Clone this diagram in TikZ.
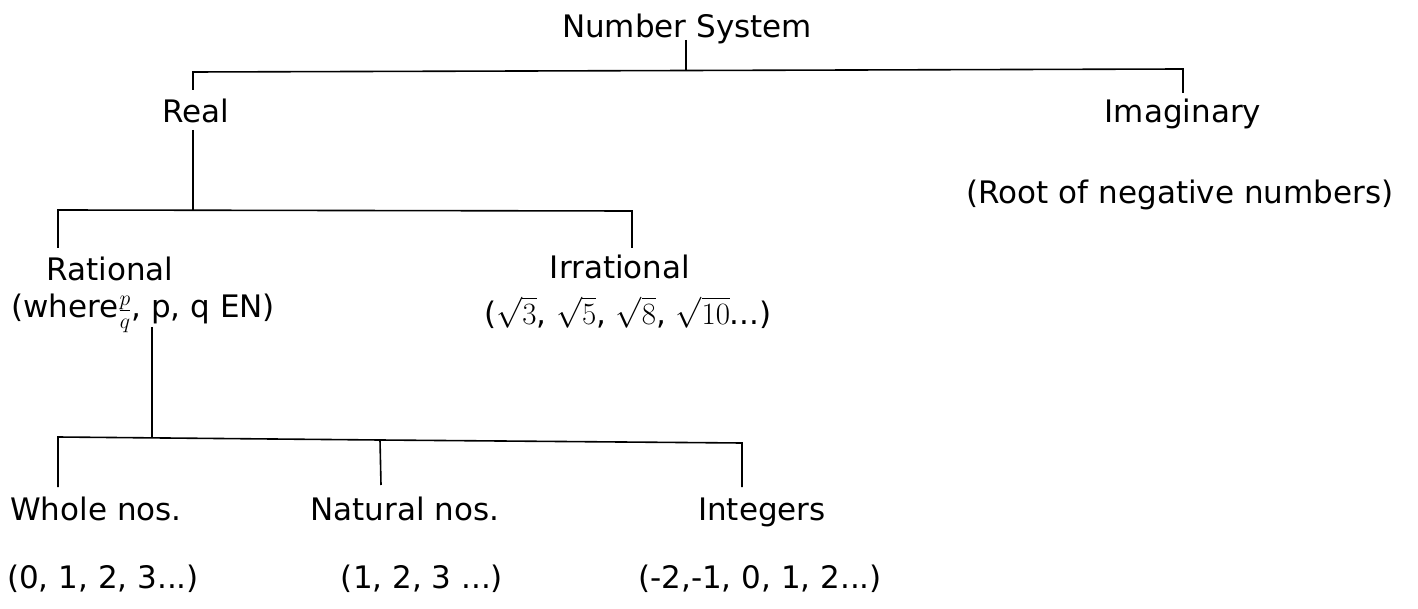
\documentclass[tikz,border=0pt]{standalone}
\usepackage{fix-cm}
\usepackage{fontspec}
\setmainfont{DejaVu Sans}
\begin{document}
\begin{tikzpicture}[x=1pt,y=-1pt,
  lbl/.style={inner sep=0pt,anchor=base,font=\fontsize{31}{36}\selectfont},
  ln/.style={line width=1.6pt}]
\useasboundingbox (0,0) rectangle (1418,609);
% nodes (placed at their baselines)
\node[lbl] (ns) at (687,38) {Number System};
\node[lbl] (real) at (196,123) {Real};
\node[lbl] (imag) at (1183,123) {Imaginary};
\node[lbl] (root) at (1180,204) {(Root of negative numbers)};
\node[lbl] (rat) at (110,281) {Rational};
\node[lbl] (irr) at (620,279) {Irrational};
\node[lbl] (where) at (143,318) {(where$\frac{p}{q}$, p, q EN)};
\node[lbl] (sqr) at (628,324) {($\sqrt{3}$, $\sqrt{5}$, $\sqrt{8}$, $\sqrt{10}$...)};
\node[lbl] (whole) at (96,520) {Whole nos.};
\node[lbl] (nat) at (405,520) {Natural nos.};
\node[lbl] (int) at (762,520) {Integers};
\node[lbl] (w0) at (103,588) {(0, 1, 2, 3...)};
\node[lbl] (n0) at (422,588) {(1, 2, 3 ...)};
\node[lbl] (i0) at (760,588) {(-2,-1, 0, 1, 2...)};
% junction coordinates
\coordinate (a0) at (686,40);
\coordinate (a1) at (686,71);
\coordinate (aL) at (193,72);
\coordinate (aR) at (1183,69);
\coordinate (aLd) at (193,90);
\coordinate (aRd) at (1183,93);
\coordinate (b0) at (193,130);
\coordinate (b1) at (193,210);
\coordinate (bL) at (58,210);
\coordinate (bR) at (632,211);
\coordinate (bLd) at (58,248);
\coordinate (bRd) at (632,248);
\coordinate (c0) at (152,327);
\coordinate (c1) at (152,437);
\coordinate (cL) at (58,437);
\coordinate (cM) at (380,440);
\coordinate (cR) at (742,443);
\coordinate (cLd) at (58,487);
\coordinate (cMd) at (381,485);
\coordinate (cRd) at (742,487);
% connectors
\draw[ln] (a0) -- (a1);
\draw[ln] (aLd) -- (aL) -- (aR) -- (aRd);
\draw[ln] (b0) -- (b1);
\draw[ln] (bLd) -- (bL) -- (bR) -- (bRd);
\draw[ln] (c0) -- (c1);
\draw[ln] (cLd) -- (cL) -- (cM) -- (cR) -- (cRd);
\draw[ln] (cM) -- (cMd);
\end{tikzpicture}
\end{document}
